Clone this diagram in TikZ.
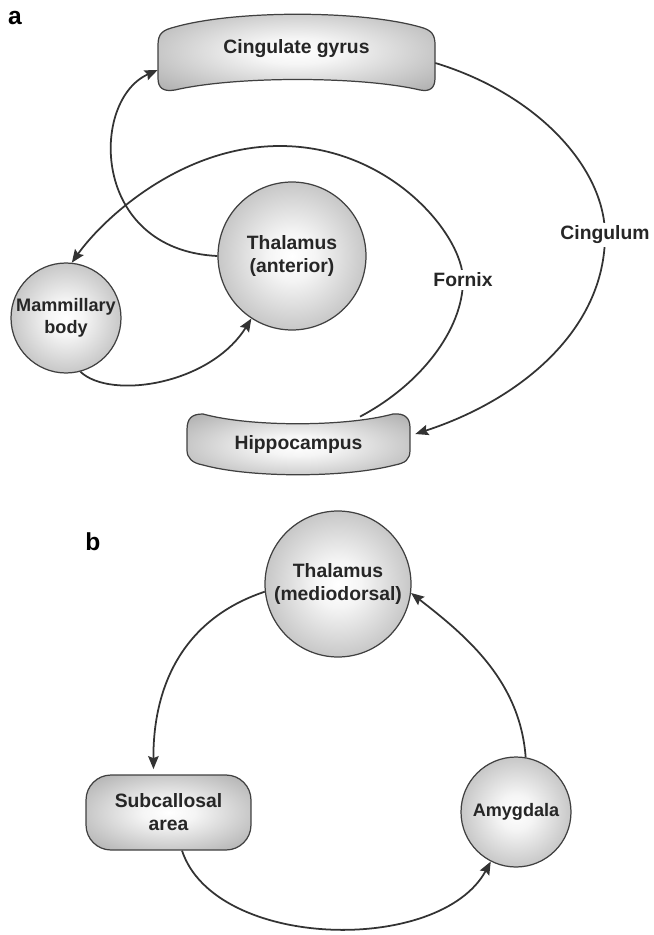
\documentclass[tikz,border=0pt]{standalone}
\usepackage{fontspec}
\setmainfont{Liberation Sans}
\usepackage{tikz}
\usetikzlibrary{arrows.meta,shapes.geometric,positioning,calc}

\pgfdeclareradialshading{brainshade}{\pgfpointorigin}{color(0bp)=(white); color(8bp)=(white!96!black); color(50bp)=(black!48); color(72bp)=(black!48)}

\newcommand{\nodefont}{\fontsize{11}{13}\selectfont\bfseries}
\newcommand{\smallnodefont}{\fontsize{10.3}{12.5}\selectfont\bfseries}

\begin{document}
\begin{tikzpicture}[
    x=0.02cm, y=-0.02cm,
    brain/.style={circle, draw=black!75, line width=0.7pt, shading=brainshade, align=center, font=\nodefont, text=black!85, inner sep=0pt},
    areabox/.style={rectangle, rounded corners=0.5cm, draw=black!75, line width=0.7pt, shading=brainshade, align=center, font=\nodefont, text=black!85, minimum width=3.3cm, minimum height=1.5cm},
    bar/.style={draw=black!75, line width=0.7pt, shading=brainshade},
    barlbl/.style={inner sep=0pt, font=\nodefont, text=black!85},
    tract/.style={line width=1pt, draw=black!80, -{Stealth[length=2.6mm,width=2.1mm,inset=0.4mm]}},
    tractlbl/.style={fill=white, inner sep=1.5pt, font=\nodefont, text=black!85},
    panel/.style={font=\fontsize{14}{16}\selectfont\bfseries}
]
\useasboundingbox (0,0) rectangle (653,935);

% panel a
\node[panel] (lbla) at (15,18) {a};

% curved bars
\path[bar] (158,45) .. controls (158,33) and (163,30) .. (175,27)
    .. controls (235,10) and (360,10) .. (420,27)
    .. controls (432,30) and (435,35) .. (435,45) -- (435,78)
    .. controls (435,88) and (430,92) .. (420,90)
    .. controls (360,76) and (235,76) .. (175,90)
    .. controls (163,92) and (158,88) .. (158,78) -- cycle;
\path[bar] (187,430) .. controls (187,418) and (192,414) .. (203,414)
    .. controls (250,427) and (345,427) .. (393,414)
    .. controls (405,413) and (410,418) .. (410,428) -- (410,450)
    .. controls (410,460) and (405,463) .. (395,465)
    .. controls (345,478) and (250,478) .. (203,465)
    .. controls (192,463) and (187,458) .. (187,450) -- cycle;

\node[barlbl, minimum width=5.54cm, minimum height=1.5cm] (cing) at (296.5,49) {Cingulate gyrus};
\node[barlbl, minimum width=4.46cm, minimum height=1.2cm] (hippo) at (298.5,445) {Hippocampus};
\node[brain, minimum size=2.96cm] (thA) at (292,256) {Thalamus\\(anterior)};
\node[brain, minimum size=2.2cm, font=\smallnodefont] (mam) at (66,318) {Mammillary\\body};

\draw[tract] (thA.west) .. controls (90,250) and (90,100) .. ([yshift=-0.42cm]cing.west);
\draw[tract] ([xshift=1.23cm,yshift=-0.04cm]hippo.north) .. controls (420,385) and (463,330) .. (463,280)
    node[tractlbl] (fornix) {Fornix}
    .. controls (463,235) and (390,146) .. (280,146)
    .. controls (180,146) and (102,220) .. (mam.84);
\draw[tract] ([yshift=-0.28cm]cing.east) .. controls (540,95) and (605,170) .. (605,235)
    node[tractlbl] (cingulum) {Cingulum}
    .. controls (605,330) and (520,400) .. ([xshift=0.1cm,yshift=0.22cm]hippo.east);
\draw[tract] (mam.-75) .. controls (110,400) and (210,385) .. (thA.237);

% panel b
\node[panel] (lblb) at (93,542) {b};

\node[brain, minimum size=2.92cm] (thMD) at (338,584) {Thalamus\\(mediodorsal)};
\node[areabox] (sub) at (168.5,812.5) {Subcallosal\\area};
\node[brain, minimum size=2.2cm, font=\smallnodefont] (amy) at (516,812) {Amygdala};

\draw[tract, shorten >=3pt] (thMD.186) .. controls (180,620) and (153,690) .. ([xshift=-0.3cm]sub.north);
\draw[tract] ([xshift=0.27cm]sub.south) .. controls (215,950) and (440,955) .. (amy.243);
\draw[tract] (amy.80) .. controls (520,680) and (465,635) .. (thMD.-7);

\end{tikzpicture}
\end{document}
